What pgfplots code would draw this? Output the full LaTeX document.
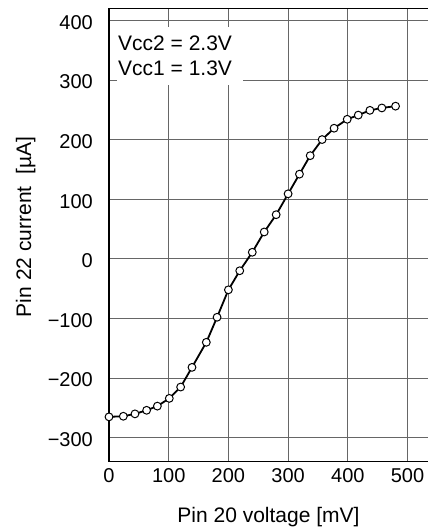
\documentclass[border=0pt]{standalone}
\usepackage{fontspec}
\setmainfont{Liberation Sans}
\usepackage{pgfplots}
\pgfplotsset{compat=1.18}
\begin{document}
\begin{tikzpicture}
\begin{axis}[
  at={(0,0)}, anchor=south west,
  scale only axis,
  width=319bp, height=453.4bp,
  xmin=0, xmax=534.3, ymin=-340.2, ymax=420.1,
  axis x line=box, axis y line*=left,
  axis line style={black, line width=1.3bp},
  xtick={0,100,200,300,400,500},
  xticklabels={0,100,200,300,400,500},
  ytick={-300,-200,-100,0,100,200,300,400},
  yticklabels={−300,−200,−100,0,100,200,300,400},
  xticklabel pos=bottom,
  major tick length=0pt,
  grid=major,
  major grid style={black!60, line width=0.8bp},
  tick label style={font=\fontsize{20bp}{24bp}\selectfont},
  xticklabel style={anchor=base, inner sep=0pt, yshift=-20.3bp},
  yticklabel style={anchor=east, inner sep=0pt, xshift=-16bp, yshift=-2bp},
  every axis x label/.style={at={(axis description cs:0.5,0)}, anchor=base, yshift=-61bp, font=\fontsize{21bp}{25bp}\selectfont},
  every axis y label/.style={at={(axis description cs:-0.2445,0.5177)}, rotate=90, anchor=base, font=\fontsize{21bp}{25bp}\selectfont},
  xlabel={Pin 20 voltage [mV]},
  ylabel={Pin 22 current\ \ [µA]},
  clip=false,
]
\addplot[black, line width=1.8bp, mark=*, mark size=3.9bp,
  mark options={fill=white, draw=black, line width=1bp}]
coordinates {
(0,-265) (24,-264) (43.5,-260) (63,-254) (81,-247) (101,-234)
(120,-215) (139,-182) (163,-140) (181,-98) (200,-52) (219,-20)
(240,11) (260,45) (280,74) (300,109) (319,142) (337,173)
(357,200) (377,219) (399,234) (417.5,241) (437,249) (457,253) (480,256)
};
\fill[white] (axis cs:13,388) rectangle (axis cs:225,291);
\node[anchor=base west, inner sep=0pt, font=\fontsize{21bp}{25bp}\selectfont] at (axis cs:15,349.7) {Vcc2 = 2.3V};
\node[anchor=base west, inner sep=0pt, font=\fontsize{21bp}{25bp}\selectfont] at (axis cs:15,307) {Vcc1 = 1.3V};
\end{axis}
\pgfresetboundingbox
\useasboundingbox (-109bp,-70.3bp) rectangle (319bp,461.7bp);
\end{tikzpicture}
\end{document}
